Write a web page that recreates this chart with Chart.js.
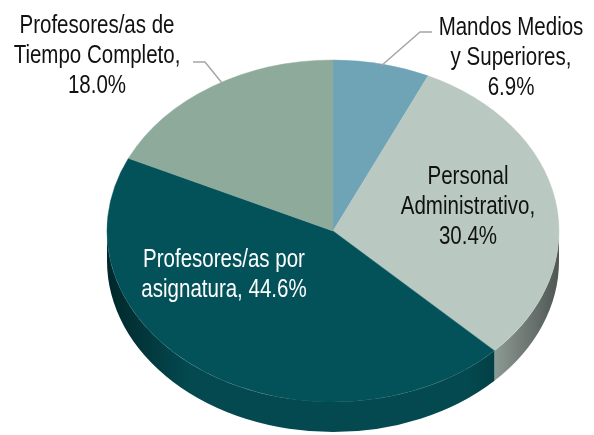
<!DOCTYPE html>
<html lang="es">
<head>
  <meta charset="UTF-8">
  <title>Distribución del personal</title>
  <script src="https://cdn.jsdelivr.net/npm/chart.js@4.4.1/dist/chart.umd.min.js"></script>
  <style>
    body {
      margin: 0;
      background-color: #ffffff;
    }
    #wrap {
      width: 594px;
      height: 435px;
    }
  </style>
</head>
<body>
  <div id="wrap">
    <canvas id="pieChart" width="594" height="435"></canvas>
  </div>

  <script>
    // Data
    const categories = [
      'Mandos Medios y Superiores',
      'Personal Administrativo',
      'Profesores/as por asignatura',
      'Profesores/as de Tiempo Completo'
    ];
    const shares = [6.9, 30.4, 44.6, 18.0];
    const labelLines = [
      ['Mandos Medios', 'y Superiores,', '{v}'],
      ['Personal', 'Administrativo,', '{v}'],
      ['Profesores/as por', 'asignatura, {v}'],
      ['Profesores/as de', 'Tiempo Completo,', '{v}']
    ];

    // Look
    const topColors = ['#6fa3b6', '#b9c9c1', '#03525a', '#8eaa9b'];
    const sideDark = ['#3e6674', '#4f5653', '#01272b', '#4f6357'];
    const sideLight = ['#5f8d9c', '#a6b5ae', '#03494f', '#7d9688'];
    const textColors = ['#111111', '#111111', '#ffffff', '#111111'];

    // 3D ellipse geometry (screen pixels)
    const CX = 333, CY = 231, RX = 226, RY = 171, DEPTH = 30;

    // label anchors: center x and first baseline
    const labelPos = [
      { x: 511, y: 35 },
      { x: 468, y: 184 },
      { x: 224, y: 267 },
      { x: 97, y: 33 }
    ];
    const LINE_H = 30;
    const NARROW = 0.82; // condensed look, no narrow face installed
    const leaders = [
      [[432, 32], [420, 32], [381, 66]],
      null,
      null,
      [[193, 62], [205, 62], [222, 83]]
    ];

    function normAngle(a) {
      const t = Math.PI * 2;
      return ((a % t) + t) % t;
    }

    // draws the front walls and squashes the pie into an ellipse
    const tiltPlugin = {
      id: 'tilt',
      beforeDatasetsDraw(chart) {
        const ctx = chart.ctx;
        const arcs = chart.getDatasetMeta(0).data;
        if (!arcs.length) return;

        arcs.forEach((arc, i) => {
          const p = arc.getProps(['startAngle', 'endAngle'], true);
          let a0 = normAngle(p.startAngle);
          let a1 = a0 + (p.endAngle - p.startAngle);
          // pieces that fall inside the front half [0, PI] and [2PI, 3PI]
          [[0, Math.PI], [Math.PI * 2, Math.PI * 3]].forEach(([lo, hi]) => {
            const s = Math.max(a0, lo), e = Math.min(a1, hi);
            if (e <= s) return;
            const grad = ctx.createLinearGradient(CX - RX, 0, CX + RX, 0);
            grad.addColorStop(0, sideDark[i]);
            grad.addColorStop(0.18, sideLight[i]);
            grad.addColorStop(0.5, sideLight[i]);
            grad.addColorStop(0.8, sideLight[i]);
            grad.addColorStop(1, sideDark[i]);
            ctx.save();
            ctx.beginPath();
            ctx.ellipse(CX, CY, RX, RY, 0, s, e, false);
            ctx.ellipse(CX, CY + DEPTH, RX, RY, 0, e, s, true);
            ctx.closePath();
            ctx.fillStyle = grad;
            ctx.fill();
            ctx.restore();
          });
        });

        const a = arcs[0];
        const r = a.outerRadius;
        ctx.save();
        ctx.translate(CX, CY);
        ctx.scale(RX / r, RY / r);
        ctx.translate(-a.x, -a.y);
      },
      afterDatasetsDraw(chart) {
        chart.ctx.restore();
      }
    };

    const labelPlugin = {
      id: 'sliceLabels',
      afterDraw(chart) {
        const ctx = chart.ctx;
        ctx.save();
        ctx.font = '25px "Liberation Sans", Arial, sans-serif';
        ctx.textAlign = 'center';
        ctx.textBaseline = 'alphabetic';
        labelLines.forEach((lines, i) => {
          const v = shares[i].toFixed(1) + '%';
          ctx.fillStyle = textColors[i];
          lines.forEach((ln, k) => {
            ctx.save();
            ctx.translate(labelPos[i].x, labelPos[i].y + k * LINE_H);
            ctx.scale(NARROW, 1);
            ctx.fillText(ln.replace('{v}', v), 0, 0);
            ctx.restore();
          });
        });
        ctx.strokeStyle = '#a6a6a6';
        ctx.lineWidth = 1.5;
        leaders.forEach(pts => {
          if (!pts) return;
          ctx.beginPath();
          ctx.moveTo(pts[0][0], pts[0][1]);
          pts.slice(1).forEach(pt => ctx.lineTo(pt[0], pt[1]));
          ctx.stroke();
        });
        ctx.restore();
      }
    };

    const ctx = document.getElementById('pieChart').getContext('2d');
    new Chart(ctx, {
      type: 'pie',
      data: {
        labels: categories,
        datasets: [{
          data: shares,
          backgroundColor: topColors,
          borderColor: topColors,
          borderWidth: 0.5,
          clip: false
        }]
      },
      options: {
        responsive: false,
        animation: false,
        events: [],
        plugins: {
          legend: { display: false },
          tooltip: { enabled: false }
        }
      },
      plugins: [tiltPlugin, labelPlugin]
    });
  </script>
</body>
</html>
